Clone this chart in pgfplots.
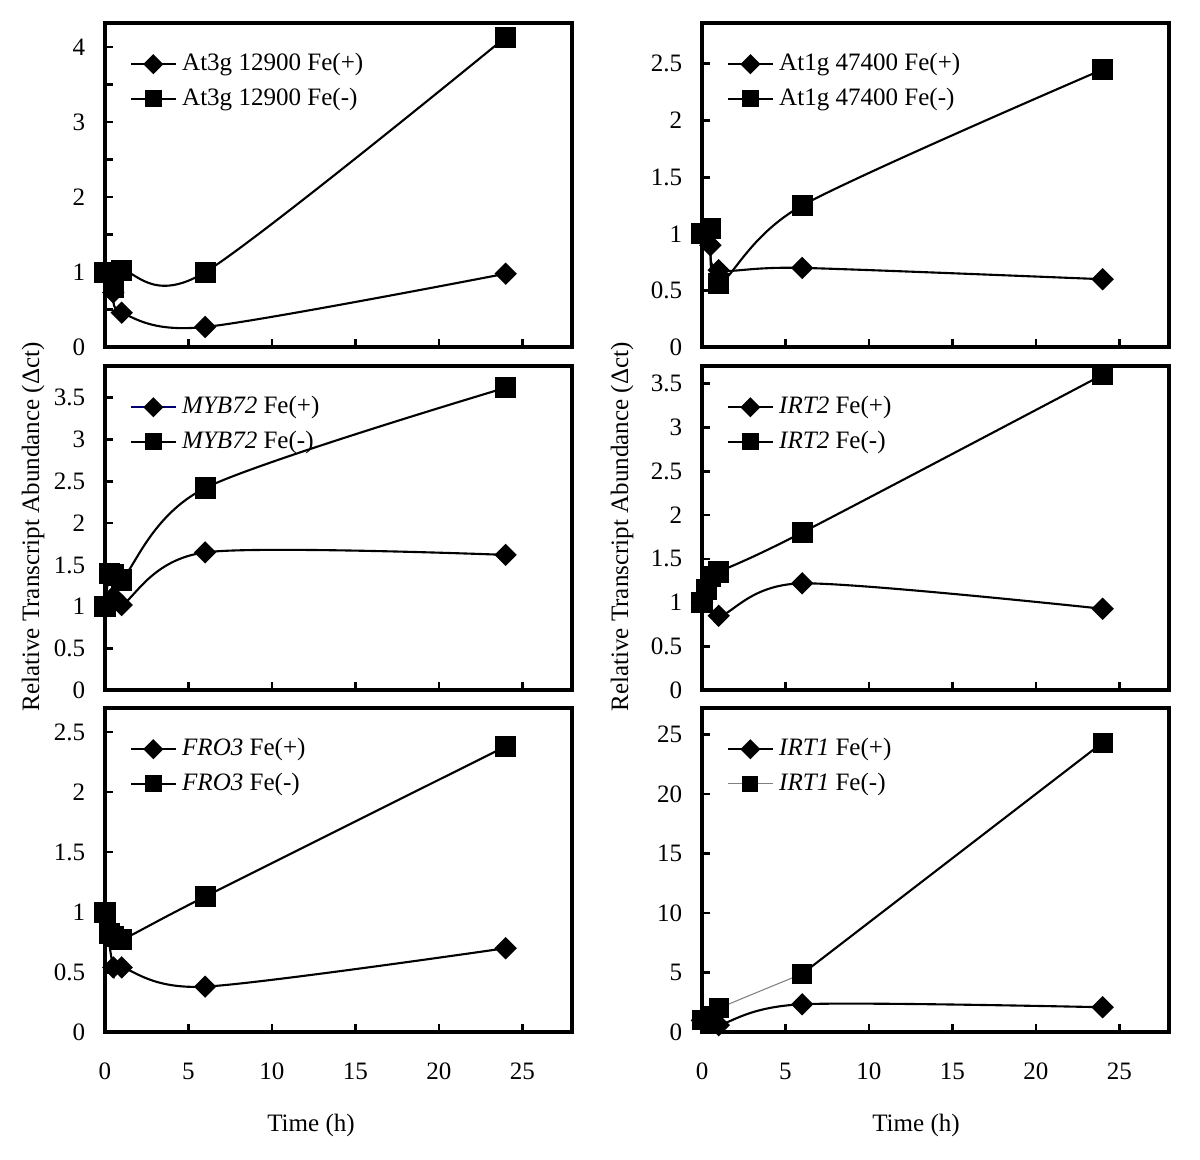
\documentclass[border=0pt]{standalone}
\usepackage{pgfplots}
\pgfplotsset{compat=1.18}
\usepackage{fontspec}
\setmainfont{Liberation Serif}

\pgfplotsset{
  panel/.style={
    scale only axis, width=177.3pt, height=123pt,
    xmin=0, xmax=28, xtick={0,5,...,25},
    axis line style={line width=1.5pt},
    tick align=inside, xtick pos=bottom, ytick pos=left,
    major tick length=3pt, tick style={line width=1pt, black},
    tick label style={font=\fontsize{9.5}{11}\selectfont},
    /pgf/number format/assume math mode=true,
    /pgf/number format/fixed,
    yticklabel style={xshift=-4pt},
    xticklabel style={yshift=-8pt},
    legend style={at={(axis description cs:0.035,0.94)}, anchor=north west,
      draw=none, fill=none, row sep=1pt, font=\fontsize{9.5}{11}\selectfont},
    legend cell align=left,
  },
  notimelabels/.style={xticklabels={,,,,,}},
  fplus/.style={black, line width=0.8pt, smooth, mark=square*, mark size=2.6pt,
    mark options={rotate=45, solid, fill=black},
    legend image post style={mark size=2.3pt}},
  fminus/.style={black, line width=0.8pt, smooth, mark=square*, mark size=3.6pt,
    mark options={solid, fill=black},
    legend image post style={mark size=2.8pt}},
}

\begin{document}
\begin{tikzpicture}
\useasboundingbox (0,0) rectangle (455.2pt,-439.66pt);

% row 1, left
\begin{axis}[panel, notimelabels, at={(39.83pt,-8.72pt)}, anchor=north west,
  ymin=0, ymax=4.32, ytick={0,0.5,...,4}, yticklabels={0,,1,,2,,3,,4}]
  \addplot[fplus] coordinates {(0,1.0) (0.5,0.73) (1,0.46) (6,0.27) (24,0.98)};
  \addlegendentry{At3g 12900 Fe(+)}
  \addplot[fminus] coordinates {(0,1.0) (0.5,0.8) (1,1.02) (6,1.0) (24,4.13)};
  \addlegendentry{At3g 12900 Fe(-)}
\end{axis}

% row 1, right
\begin{axis}[panel, notimelabels, at={(266.3pt,-8.72pt)}, anchor=north west,
  ymin=0, ymax=2.86, ytick={0,0.5,1,1.5,2,2.5}]
  \addplot[fplus] coordinates {(0,1.0) (0.5,0.9) (1,0.68) (6,0.7) (24,0.6)};
  \addlegendentry{At1g 47400 Fe(+)}
  \addplot[fminus] coordinates {(0,1.0) (0.5,1.05) (1,0.56) (6,1.25) (24,2.45)};
  \addlegendentry{At1g 47400 Fe(-)}
\end{axis}

% row 2, left
\begin{axis}[panel, notimelabels, at={(39.83pt,-138.84pt)}, anchor=north west,
  ymin=0, ymax=3.88, ytick={0,0.5,1,1.5,2,2.5,3,3.5}]
  \addplot[fplus, forget plot] coordinates {(0,1.0) (0.5,1.12) (1,1.02) (6,1.65) (24,1.62)};
  \addlegendimage{fplus, draw=blue!45!black, mark options={rotate=45, solid, fill=black, draw=black}}
  \addlegendentry{\textit{MYB72} Fe(+)}
  \addplot[fminus] coordinates {(0,1.0) (0.25,1.4) (0.5,1.38) (1,1.32) (6,2.42) (24,3.62)};
  \addlegendentry{\textit{MYB72} Fe(-)}
\end{axis}

% row 2, right
\begin{axis}[panel, notimelabels, at={(266.3pt,-138.84pt)}, anchor=north west,
  ymin=0, ymax=3.7, ytick={0,0.5,1,1.5,2,2.5,3,3.5}]
  \addplot[fplus] coordinates {(0,1.0) (0.5,1.25) (1,0.85) (6,1.22) (24,0.93)};
  \addlegendentry{\textit{IRT2} Fe(+)}
  \addplot[fminus] coordinates {(0,1.0) (0.25,1.15) (0.5,1.3) (1,1.35) (6,1.8) (24,3.6)};
  \addlegendentry{\textit{IRT2} Fe(-)}
\end{axis}

% row 3, left
\begin{axis}[panel, at={(39.83pt,-268.57pt)}, anchor=north west,
  ymin=0, ymax=2.7, ytick={0,0.5,1,1.5,2,2.5}]
  \addplot[fplus] coordinates {(0,1.0) (0.5,0.54) (1,0.54) (6,0.38) (24,0.7)};
  \addlegendentry{\textit{FRO3} Fe(+)}
  \addplot[fminus] coordinates {(0,1.0) (0.25,0.82) (0.5,0.8) (1,0.77) (6,1.13) (24,2.38)};
  \addlegendentry{\textit{FRO3} Fe(-)}
\end{axis}

% row 3, right
\begin{axis}[panel, at={(266.3pt,-268.57pt)}, anchor=north west,
  ymin=0, ymax=27.2, ytick={0,5,...,25}]
  \addplot[fplus] coordinates {(0,1.0) (0.5,0.9) (1,0.6) (6,2.35) (24,2.1)};
  \addlegendentry{\textit{IRT1} Fe(+)}
  \addplot[gray, line width=0.4pt, smooth, forget plot] coordinates {(0,1.0) (0.5,1.4) (1,2.0) (6,4.9)};
  \addplot[black, line width=0.8pt, forget plot] coordinates {(6,4.9) (24,24.3)};
  \addplot[black, only marks, mark=square*, mark size=3.6pt, forget plot] coordinates {(0,1.0) (0.5,1.4) (1,2.0) (6,4.9) (24,24.3)};
  \addlegendimage{gray, line width=0.4pt, mark=square*, mark size=2.8pt, mark options={black, fill=black}}
  \addlegendentry{\textit{IRT1} Fe(-)}
\end{axis}

\node[rotate=90, font=\fontsize{9.5}{11}\selectfont] at (12.52pt,-199.9pt) {Relative Transcript Abundance (Δct)};
\node[rotate=90, font=\fontsize{9.5}{11}\selectfont] at (235.95pt,-199.9pt) {Relative Transcript Abundance (Δct)};
\node[font=\fontsize{9.5}{11}\selectfont] at (117.97pt,-427.1pt) {Time (h)};
\node[font=\fontsize{9.5}{11}\selectfont] at (347.47pt,-427.1pt) {Time (h)};
\end{tikzpicture}
\end{document}
